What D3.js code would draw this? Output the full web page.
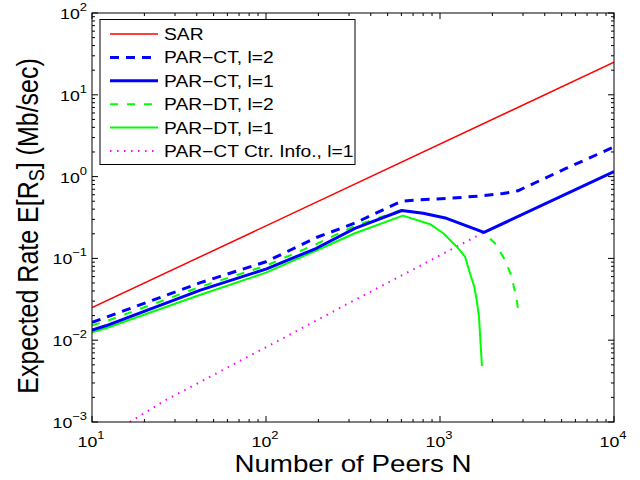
<!DOCTYPE html>
<html>
<head>
<meta charset="utf-8">
<script src="https://cdn.jsdelivr.net/npm/d3@7"></script>
<style>
  body { margin: 0; background: #fff; }
  svg { font-family: "Liberation Sans", Arial, sans-serif; }
</style>
</head>
<body>
<svg id="chart"></svg>
<script>
// values
const sarN = [10, 10000];
const sar = [0.025, 25];

const ct2N = [10, 12, 42, 100, 195, 324, 600, 703, 1100, 1700, 2300, 2800, 5300, 10000];
const ct2 = [0.0165, 0.019, 0.0505, 0.091, 0.18, 0.27, 0.50, 0.515, 0.54, 0.58, 0.62, 0.67, 1.26, 2.3];

const ct1N = [10, 12, 42, 100, 195, 324, 603, 800, 1090, 1790, 10000];
const ct1 = [0.0133, 0.015, 0.041, 0.074, 0.133, 0.233, 0.385, 0.356, 0.309, 0.208, 1.15];

const dt2N = [10, 12, 42, 100, 195, 324, 603, 800, 1090, 1790, 2071, 2366, 2583, 2761, 2845];
const dt2 = [0.0152, 0.017, 0.045, 0.0815, 0.15, 0.25, 0.39, 0.356, 0.309, 0.205, 0.153, 0.0955, 0.0597, 0.031, 0.0194];

const dt1N = [10, 12, 42, 100, 195, 324, 612, 877, 1045, 1247, 1393, 1486, 1574, 1625, 1675, 1698, 1742];
const dt1 = [0.0125, 0.014, 0.036, 0.067, 0.125, 0.203, 0.333, 0.262, 0.203, 0.139, 0.105, 0.0658, 0.045, 0.031, 0.0194, 0.0121, 0.00484];

const ctrN = [16.5, 26.6, 100, 324, 1791, 10000];
const ctr = [0.001, 0.00186, 0.0082, 0.031, 0.208, 1.15];

const xTicks = [10, 100, 1000, 10000];
const xTickExp = ["1", "2", "3", "4"];
const yTicks = [0.001, 0.01, 0.1, 1, 10, 100];
const yTickExp = ["\u22123", "\u22122", "\u22121", "0", "1", "2"];

const legendNames = ["SAR", "PAR\u2212CT, l=2", "PAR\u2212CT, l=1", "PAR\u2212DT, l=2", "PAR\u2212DT, l=1", "PAR\u2212CT Ctr. Info., l=1"];

const W = 640, H = 480;
const mLeft = 92, mRight = 614, mTop = 13, mBottom = 422;
const stretch = 1.18; // the figure's text is a bit wider than it is tall

const svg = d3.select("#chart").attr("width", W).attr("height", H);

const x = d3.scaleLog().domain([10, 10000]).range([mLeft, mRight]);
const y = d3.scaleLog().domain([0.001, 100]).range([mBottom, mTop]);

svg.append("defs").append("clipPath").attr("id", "clip")
  .append("rect").attr("x", mLeft).attr("y", mTop).attr("width", mRight - mLeft).attr("height", mBottom - mTop);

const zip = (ns, vs) => ns.map((n, i) => [n, vs[i]]);
const line = d3.line().x(d => x(d[0])).y(d => y(d[1]));

// series, drawn in this order (magenta first so the blue lies over it)
const series = [
  { data: zip(ctrN, ctr), color: "#ff00ff", width: 2, dash: "1.5,5.5", leg: 5 },
  { data: zip(sarN, sar), color: "#ff0000", width: 1.5, dash: null, leg: 0 },
  { data: zip(ct2N, ct2), color: "#0000ff", width: 3, dash: "9,7", leg: 1 },
  { data: zip(dt2N, dt2), color: "#00ff00", width: 2, dash: "8,9", leg: 3 },
  { data: zip(dt1N, dt1), color: "#00ff00", width: 2, dash: null, leg: 4 },
  { data: zip(ct1N, ct1), color: "#0000ff", width: 3, dash: null, leg: 2 }
];

const plot = svg.append("g").attr("clip-path", "url(#clip)");
series.forEach(s => {
  plot.append("path")
    .datum(s.data)
    .attr("d", line)
    .attr("fill", "none")
    .attr("stroke", s.color)
    .attr("stroke-width", s.width)
    .attr("stroke-dasharray", s.dash)
    .attr("stroke-linejoin", "round");
});

// axes box with inward ticks on all four sides
const axes = svg.append("g").attr("stroke", "#000").attr("stroke-width", 1);
const minor = (ticks) => {
  let out = [];
  ticks.slice(0, -1).forEach(t => { for (let k = 2; k < 10; k++) out.push(t * k); });
  return out;
};
xTicks.forEach(t => {
  axes.append("line").attr("x1", x(t)).attr("x2", x(t)).attr("y1", mBottom).attr("y2", mBottom - 6);
  axes.append("line").attr("x1", x(t)).attr("x2", x(t)).attr("y1", mTop).attr("y2", mTop + 6);
});
minor(xTicks).forEach(t => {
  axes.append("line").attr("x1", x(t)).attr("x2", x(t)).attr("y1", mBottom).attr("y2", mBottom - 3);
  axes.append("line").attr("x1", x(t)).attr("x2", x(t)).attr("y1", mTop).attr("y2", mTop + 3);
});
yTicks.forEach(t => {
  axes.append("line").attr("y1", y(t)).attr("y2", y(t)).attr("x1", mLeft).attr("x2", mLeft + 6);
  axes.append("line").attr("y1", y(t)).attr("y2", y(t)).attr("x1", mRight).attr("x2", mRight - 6);
});
minor(yTicks).forEach(t => {
  axes.append("line").attr("y1", y(t)).attr("y2", y(t)).attr("x1", mLeft).attr("x2", mLeft + 3);
  axes.append("line").attr("y1", y(t)).attr("y2", y(t)).attr("x1", mRight).attr("x2", mRight - 3);
});
axes.append("rect").attr("x", mLeft).attr("y", mTop).attr("width", mRight - mLeft).attr("height", mBottom - mTop)
  .attr("fill", "none");

// text placed at (px,py), widened a little
let stretchedText = (px, py, extra) => svg.append("text")
  .attr("transform", `translate(${px},${py}) scale(${stretch},1)` + (extra || ""));

// tick labels
xTicks.forEach((t, i) => {
  const tx = stretchedText(x(t) - 1, mBottom + 25).attr("text-anchor", "middle").attr("font-size", 15);
  tx.append("tspan").text("10");
  tx.append("tspan").attr("dy", -8).attr("font-size", 11).text(xTickExp[i]);
});
yTicks.forEach((t, i) => {
  const tx = stretchedText(mLeft - 5, y(t) + 6).attr("text-anchor", "end").attr("font-size", 15);
  tx.append("tspan").text("10");
  tx.append("tspan").attr("dy", -8).attr("font-size", 11).text(yTickExp[i]);
});

// axis labels
stretchedText((mLeft + mRight) / 2, 472).attr("text-anchor", "middle").attr("font-size", 23.5)
  .text("Number of Peers N");

const yl = stretchedText(38, 226, " rotate(-90)").attr("text-anchor", "middle").attr("font-size", 25);
yl.append("tspan").text("Expected Rate E[R");
yl.append("tspan").attr("font-size", 18).attr("dy", 5).text("S");
yl.append("tspan").attr("dy", -5).text("] (Mb/sec)");

// legend
const lg = svg.append("g");
lg.append("rect").attr("x", 100).attr("y", 19.5).attr("width", 255).attr("height", 145)
  .attr("fill", "#fff").attr("stroke", "#000").attr("stroke-width", 1);
const legStyle = [];
series.forEach(s => { legStyle[s.leg] = s; });
legendNames.forEach((name, i) => {
  const s = legStyle[i];
  const ly = 34 + i * 23.4;
  lg.append("line").attr("x1", 110).attr("x2", 158).attr("y1", ly).attr("y2", ly)
    .attr("stroke", s.color).attr("stroke-width", s.width).attr("stroke-dasharray", s.dash);
  stretchedText(164, ly + 6).attr("font-size", 16.3).text(name);
});
</script>
</body>
</html>
